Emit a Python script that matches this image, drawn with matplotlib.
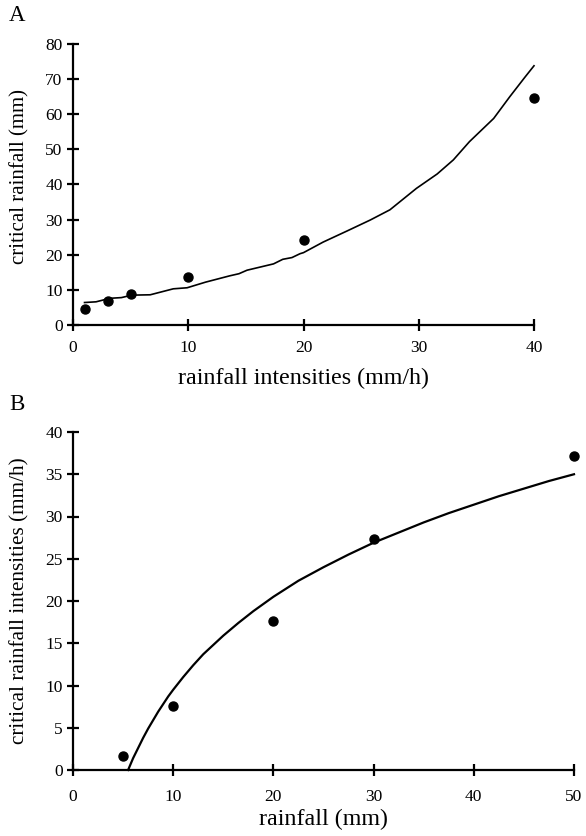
import matplotlib
matplotlib.use("Agg")
import matplotlib.pyplot as plt

plt.rcParams['font.family'] = ['Liberation Serif', 'DejaVu Serif']

# Panel A data
a_obs_x = [1, 3, 5, 10, 20, 40]
a_obs_y = [4.6, 6.9, 8.7, 13.8, 24.2, 64.6]
a_curve_x = [1.0, 2.0, 3.2, 4.2, 5.1, 6.7, 8.7, 9.9, 11.5, 13.6, 14.4, 15.1, 17.4, 18.2, 19.0, 19.7, 20.0,
             21.7, 23.8, 25.8, 27.5, 29.8, 31.6, 33.0, 34.4, 36.5, 37.9, 39.2, 40.0]
a_curve_y = [6.4, 6.6, 7.6, 7.8, 8.5, 8.6, 10.3, 10.6, 12.2, 14.0, 14.6, 15.6, 17.4, 18.7, 19.2, 20.3, 20.6,
             23.6, 26.8, 29.9, 32.8, 38.9, 43.0, 47.0, 52.2, 58.8, 65.0, 70.5, 73.8]
a_xticks = [0, 10, 20, 30, 40]
a_yticks = [0, 10, 20, 30, 40, 50, 60, 70, 80]

# Panel B data
b_obs_x = [5, 10, 20, 30, 50]
b_obs_y = [1.6, 7.6, 17.6, 27.3, 37.2]
b_curve_x = [5.5, 5.75, 6.0, 6.25, 6.5, 6.75, 7.0, 7.5, 8.0, 8.5, 9.0, 9.5, 10.0, 11.0, 12.0, 13.0, 14.0, 15.0,
             16.5, 18.0, 20.0, 22.5, 25.0, 27.5, 30.0, 32.5, 35.0, 37.5, 40.0, 42.5, 45.0, 47.5, 50.0]
b_curve_y = [0.0, 0.7, 1.4, 2.0, 2.6, 3.2, 3.8, 4.9, 5.9, 6.9, 7.8, 8.7, 9.5, 11.0, 12.4, 13.7, 14.8, 15.9,
             17.4, 18.8, 20.5, 22.4, 24.0, 25.5, 26.9, 28.1, 29.3, 30.4, 31.4, 32.4, 33.3, 34.2, 35.0]
b_xticks = [0, 10, 20, 30, 40, 50]
b_yticks = [0, 5, 10, 15, 20, 25, 30, 35, 40]

W, H = 586, 836
fig = plt.figure(figsize=(W / 100, H / 100), dpi=100)

def px_axes(l, t, r, b):
    return fig.add_axes([l / W, 1 - b / H, (r - l) / W, (b - t) / H])

def style(ax):
    for s in ('top', 'right'):
        ax.spines[s].set_visible(False)
    for s in ('left', 'bottom'):
        ax.spines[s].set_linewidth(1.6)
    ax.tick_params(direction='inout', length=9, width=1.6, labelsize=12.5, pad=3)
    ax.set_facecolor('none')

axA = px_axes(73, 44, 534, 325)
axA.plot(a_curve_x, a_curve_y, color='black', lw=1.2, clip_on=False)
axA.plot(a_obs_x, a_obs_y, 'o', color='black', ms=6.5, clip_on=False)
axA.set_xlim(0, 40)
axA.set_ylim(0, 80)
axA.set_xticks(a_xticks)
axA.set_yticks(a_yticks)
style(axA)
axA.tick_params(axis='x', pad=6)
axA.set_xlabel('rainfall intensities (mm/h)', fontsize=17.3, va='center')
axA.set_ylabel('critical rainfall (mm)', fontsize=15, va='center')
axA.xaxis.set_label_coords(0.5, -(378 - 325) / (325 - 44))
axA.yaxis.set_label_coords(-(73 - 20) / (534 - 73), 0.53)

axB = px_axes(73, 432, 574, 770)
axB.plot(b_curve_x, b_curve_y, color='black', lw=1.6, clip_on=False)
axB.plot(b_obs_x, b_obs_y, 'o', color='black', ms=6.5, clip_on=False)
axB.set_xlim(0, 50)
axB.set_ylim(0, 40)
axB.set_xticks(b_xticks)
axB.set_yticks(b_yticks)
style(axB)
axB.tick_params(axis='x', pad=9)
axB.set_xlabel('rainfall (mm)', fontsize=17.3, va='center')
axB.set_ylabel('critical rainfall intensities (mm/h)', fontsize=15.3, va='center')
axB.xaxis.set_label_coords(0.5, -(819 - 770) / (770 - 432))
axB.yaxis.set_label_coords(-(73 - 20) / (574 - 73), 0.5)

fig.text(9 / W, 1 - 15.5 / H, 'A', fontsize=16.5, va='center', ha='left')
fig.text(9 / W, 1 - 404.5 / H, 'B', fontsize=16.5, va='center', ha='left')

fig.savefig('out.png', dpi=100)
